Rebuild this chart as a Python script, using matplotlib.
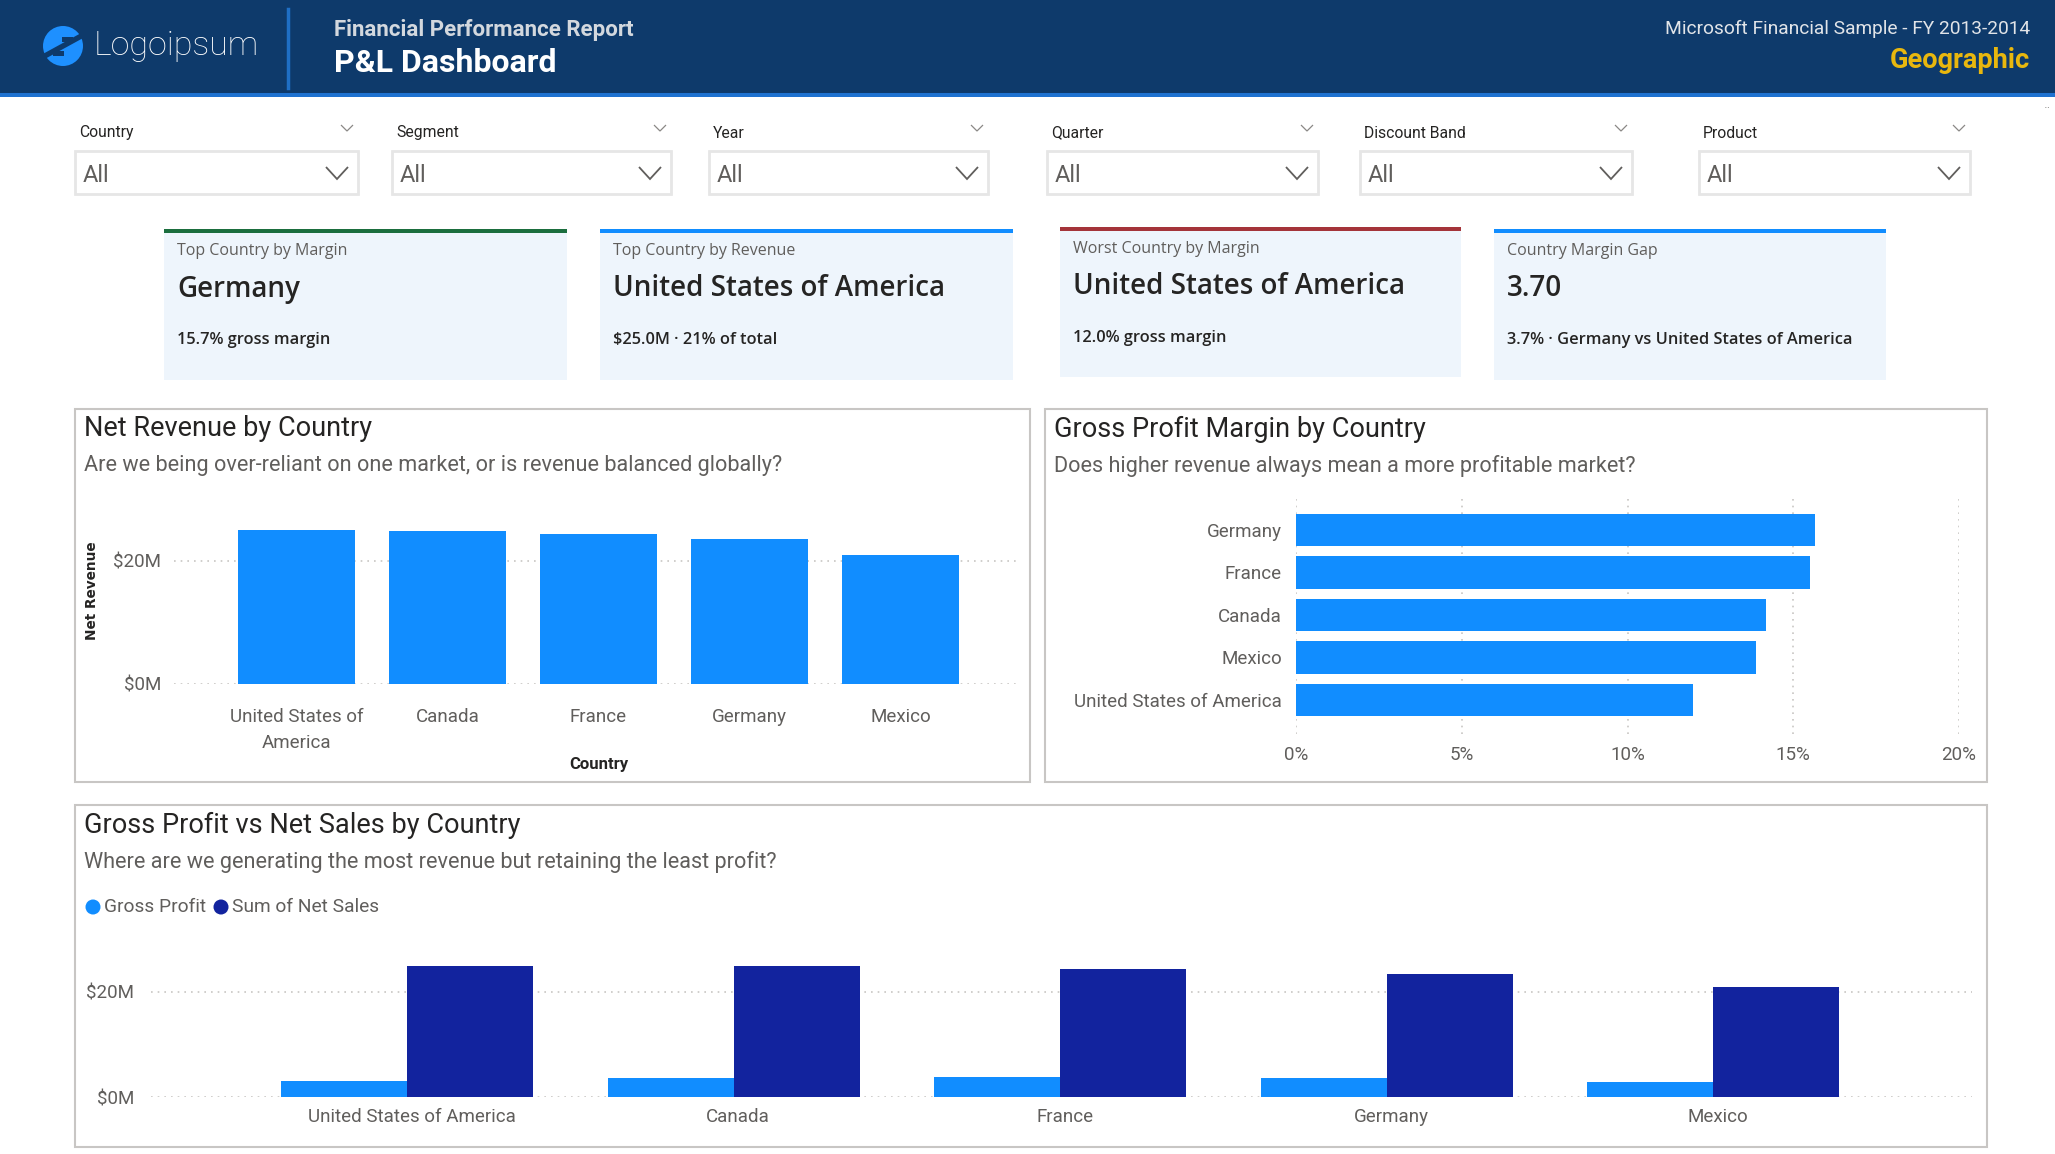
import textwrap
import numpy as np
import matplotlib
matplotlib.use('Agg')
import matplotlib.pyplot as plt
from matplotlib.patches import Rectangle, Circle, Polygon

W, H = 2055, 1154

# chart data ($M and %)
countries = ['United States of America', 'Canada', 'France', 'Germany', 'Mexico']
net_sales = [25.03, 24.89, 24.35, 23.51, 20.95]
gross_profit = [3.00, 3.53, 3.78, 3.68, 2.91]
margin_countries = ['Germany', 'France', 'Canada', 'Mexico', 'United States of America']
margin_pct = [15.66, 15.52, 14.18, 13.88, 11.97]
rev_ticks = [0, 20]
pct_ticks = [0, 5, 10, 15, 20]

slicers = ['Country', 'Segment', 'Year', 'Quarter', 'Discount Band', 'Product']
slicer_value = 'All'

card_titles = ['Top Country by Margin', 'Top Country by Revenue', 'Worst Country by Margin', 'Country Margin Gap']
card_values = ['Germany', 'United States of America', 'United States of America', '3.70']
card_subs = ['15.7% gross margin', '$25.0M · 21% of total', '12.0% gross margin',
             '3.7% · Germany vs United States of America']

BLUE = '#118DFF'
NAVY = '#12239E'
GRID = '#C8C6C4'
TXT = '#252423'
SUB = '#605E5C'
COND = ['Roboto', 'DejaVu Sans']
SEGOE = ['Open Sans', 'DejaVu Sans']


def fig_rect(x0, y0, x1, y1):
    return [x0 / W, 1 - y1 / H, (x1 - x0) / W, (y1 - y0) / H]


fig = plt.figure(figsize=(W / 100, H / 100), dpi=100)
fig.patch.set_facecolor('white')
bg = fig.add_axes([0, 0, 1, 1])
bg.set_xlim(0, W)
bg.set_ylim(H, 0)
bg.axis('off')


def chevron(cx, cy, w, h, lw=1.0, color='#8A8886'):
    bg.plot([cx - w / 2, cx, cx + w / 2], [cy - h / 2, cy + h / 2, cy - h / 2],
            color=color, lw=lw, solid_joinstyle='miter', solid_capstyle='butt')


# ---- header
HEAD = '#0E3A6B'
bg.add_patch(Rectangle((0, 0), W, 94, color=HEAD, lw=0))
bg.add_patch(Rectangle((0, 93), W, 4, color='#1F72D0', lw=0))
bg.add_patch(Circle((63, 46), 20, color='#1E90FF', lw=0))
bg.add_patch(Polygon([(41, 55), (83, 32), (85, 37), (43, 60)], closed=True, color=HEAD, lw=0))
bg.add_patch(Rectangle((62, 37), 11, 5, color=HEAD, lw=0))
bg.add_patch(Rectangle((53, 51), 11, 5, color=HEAD, lw=0))
bg.text(94, 46, 'Logoipsum', color='white', fontsize=24.5, family=COND, weight='light', va='center')
bg.plot([288, 288], [9, 88], color='#1F6FC5', lw=2.5)
bg.text(334, 30, 'Financial Performance Report', color='#D3D8DE', fontsize=16, family=COND,
        weight='bold', va='center')
bg.text(334, 63, 'P&L Dashboard', color='white', fontsize=23, family=COND, weight='bold', va='center')
bg.text(2030, 29, 'Microsoft Financial Sample - FY 2013-2014', color='#E1E4E8', fontsize=13.8,
        family=COND, ha='right', va='center')
bg.text(2030, 61, 'Geographic', color='#E8B70E', fontsize=19.5, family=COND, weight='bold',
        ha='right', va='center')
bg.text(2047, 108, '··', color='#8A8886', fontsize=8, ha='center', va='center')

# ---- slicers
slicer_x = [75, 392, 709, 1047, 1360, 1699]
slicer_w = [283, 279, 279, 271, 272, 271]
for name, x0, w in zip(slicers, slicer_x, slicer_w):
    bg.text(x0 + 4, 133, name, color=TXT, fontsize=11.3, family=COND, va='center')
    chevron(x0 + w - 11, 128, 12, 6, lw=0.9)
    bg.add_patch(Rectangle((x0, 151), w, 43, fill=False, ec='#E6E6E6', lw=2))
    bg.text(x0 + 8, 176, slicer_value, color=SUB, fontsize=17, family=COND, va='center')
    chevron(x0 + w - 21, 173, 22, 12, lw=1.3, color='#605E5C')

# ---- cards
card_box = [(164, 229, 567, 380), (600, 229, 1013, 380), (1060, 227, 1461, 377), (1494, 229, 1886, 380)]
card_line = ['#1B6E3E', BLUE, '#A4343A', BLUE]
for (x0, y0, x1, y1), title, val, sub, lc in zip(card_box, card_titles, card_values, card_subs, card_line):
    bg.add_patch(Rectangle((x0, y0), x1 - x0, y1 - y0, color='#EEF5FC', lw=0))
    bg.add_patch(Rectangle((x0, y0), x1 - x0, 4, color=lc, lw=0))
    bg.text(x0 + 13, y0 + 22, title, color=SUB, fontsize=11.5, family=SEGOE, va='center')
    bg.text(x0 + 13, y0 + 60, val, color=TXT, fontsize=20, family=SEGOE, weight='semibold', va='center')
    bg.text(x0 + 13, y0 + 111, sub, color=TXT, fontsize=11.8, family=SEGOE, weight='semibold', va='center')

# ---- panels
panels = [(75, 409, 1030, 782), (1045, 409, 1987, 782), (75, 805, 1987, 1147)]
panel_titles = ['Net Revenue by Country', 'Gross Profit Margin by Country', 'Gross Profit vs Net Sales by Country']
panel_subs = ['Are we being over-reliant on one market, or is revenue balanced globally?',
              'Does higher revenue always mean a more profitable market?',
              'Where are we generating the most revenue but retaining the least profit?']
for (x0, y0, x1, y1), t, s in zip(panels, panel_titles, panel_subs):
    bg.add_patch(Rectangle((x0, y0), x1 - x0, y1 - y0, fill=False, ec=GRID, lw=1.5))
    bg.text(x0 + 9, y0 + 20, t, color=TXT, fontsize=19.5, family=COND, va='center')
    bg.text(x0 + 9, y0 + 57, s, color=SUB, fontsize=15.6, family=COND, va='center')


def style(ax, grid_axis):
    ax.set_facecolor('none')
    for sp in ax.spines.values():
        sp.set_visible(False)
    ax.tick_params(length=0, labelcolor=SUB, labelsize=13.5)
    for lab in ax.get_xticklabels() + ax.get_yticklabels():
        lab.set_family(COND)
    ax.grid(True, axis=grid_axis, linestyle=(0, (1, 3)), color=GRID, lw=1.2)
    ax.set_axisbelow(True)


# net revenue
ax1 = fig.add_axes(fig_rect(174, 500, 1020, 684))
x = np.arange(len(countries))
ax1.bar(x, net_sales, width=0.77, color=BLUE)
ax1.set_xlim(-0.81, 4.79)
ax1.set_ylim(0, 29.9)
ax1.set_yticks(rev_ticks)
ax1.set_yticklabels(['$%dM' % v for v in rev_ticks])
ax1.set_xticks(x)
ax1.set_xticklabels([textwrap.fill(c, 16) for c in countries], linespacing=1.6, va='top')
style(ax1, 'y')
ax1.tick_params(axis='x', pad=17)
ax1.tick_params(axis='y', pad=9)
bg.text(92, 591, 'Net Revenue', rotation=90, color=TXT, fontsize=9.8, weight='bold', ha='center', va='center')
bg.text(599, 765, 'Country', color=TXT, fontsize=12, family=COND, weight='bold', ha='center', va='center')

# gross profit margin
ax2 = fig.add_axes(fig_rect(1296, 498, 1959, 734))
y = np.arange(len(margin_countries))
ax2.barh(y, margin_pct, height=0.77, color=BLUE)
ax2.set_ylim(4.8, -0.75)
ax2.set_xlim(0, 20)
ax2.set_xticks(pct_ticks)
ax2.set_xticklabels(['%d%%' % v for v in pct_ticks])
ax2.set_yticks(y)
ax2.set_yticklabels(margin_countries)
style(ax2, 'x')
ax2.tick_params(axis='x', pad=9)
ax2.tick_params(axis='y', pad=10)

# gross profit vs net sales
ax3 = fig.add_axes(fig_rect(151, 930, 1972, 1097))
bw = 0.386
ax3.bar(x - bw / 2, gross_profit, width=bw, color=BLUE)
ax3.bar(x + bw / 2, net_sales, width=bw, color=NAVY)
ax3.set_xlim(-0.784, 4.792)
ax3.set_ylim(0, 31.8)
ax3.set_yticks(rev_ticks)
ax3.set_yticklabels(['$%dM' % v for v in rev_ticks])
ax3.set_xticks(x + 0.014)
ax3.set_xticklabels(countries)
style(ax3, 'y')
ax3.tick_params(axis='x', pad=8)
ax3.tick_params(axis='y', pad=12)

bg.add_patch(Circle((93, 907), 7.5, color=BLUE, lw=0))
bg.text(104, 907, 'Gross Profit', color=SUB, fontsize=13.8, family=COND, va='center')
bg.add_patch(Circle((221, 907), 7.5, color=NAVY, lw=0))
bg.text(232, 907, 'Sum of Net Sales', color=SUB, fontsize=13.8, family=COND, va='center')

fig.savefig('out.png', dpi=100, facecolor='white')
